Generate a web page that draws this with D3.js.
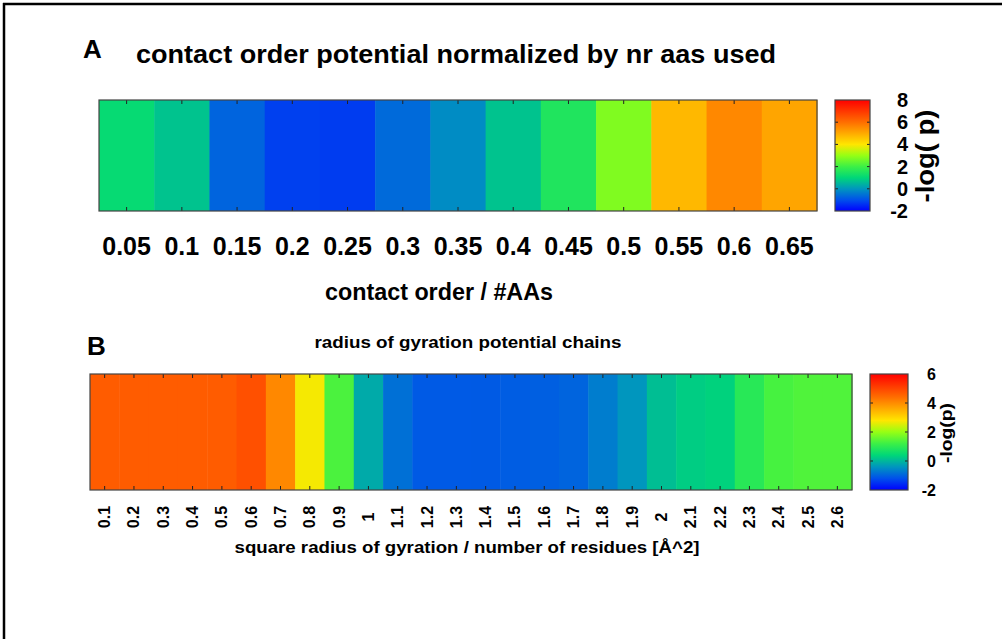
<!DOCTYPE html>
<html>
<head>
<meta charset="utf-8">
<script src="https://cdn.jsdelivr.net/npm/d3@7"></script>
<style>
  html, body { margin: 0; padding: 0; background: #fff; }
  svg { display: block; }
  text { font-family: "Liberation Sans", Arial, Helvetica, sans-serif; font-weight: bold; fill: #000; }
</style>
</head>
<body>
<svg id="chart" width="1002" height="639"></svg>
<script>
// Panel A: contact order potential
const contactOrder = ["0.05", "0.1", "0.15", "0.2", "0.25", "0.3", "0.35", "0.4", "0.45", "0.5", "0.55", "0.6", "0.65"];
const contactLogP = [1.1, 0.69, -0.71, -1.2, -1.25, -0.63, -0.14, 0.69, 1.53, 2.76, 4.77, 5.57, 5.08];
const contactTicks = [-2, 0, 2, 4, 6, 8];

// Panel B: radius of gyration potential
const gyration = ["0.1", "0.2", "0.3", "0.4", "0.5", "0.6", "0.7", "0.8", "0.9", "1", "1.1", "1.2", "1.3",
                  "1.4", "1.5", "1.6", "1.7", "1.8", "1.9", "2", "2.1", "2.2", "2.3", "2.4", "2.5", "2.6"];
const gyrationLogP = [4.66, 4.66, 4.66, 4.66, 4.66, 4.84, 4.05, 2.72, 1.33, -0.16, -0.83, -1.09, -1.09,
                      -1.08, -1.05, -1.03, -0.97, -0.69, -0.40, 0.09, 0.28, 0.34, 0.93, 1.29, 1.38, 1.38];
const gyrationTicks = [-2, 0, 2, 4, 6];

// rainbow palette, blue -> green -> yellow -> red
const paletteStops = [
  [0.0, "rgb(0,0,255)"], [0.1, "rgb(0,80,235)"], [0.2, "rgb(0,150,190)"], [0.3, "rgb(0,215,120)"],
  [0.4, "rgb(60,240,70)"], [0.5, "rgb(150,255,20)"], [0.6, "rgb(255,230,0)"], [0.7, "rgb(255,170,0)"],
  [0.8, "rgb(255,110,0)"], [0.9, "rgb(255,55,0)"], [1.0, "rgb(255,0,0)"]
];

const svg = d3.select("#chart");
const defs = svg.append("defs");

// page frame (top and left rules)
svg.append("line").attr("x1", 3).attr("x2", 1002).attr("y1", 4).attr("y2", 4)
  .attr("stroke", "#000").attr("stroke-width", 2.5);
svg.append("line").attr("x1", 4).attr("x2", 4).attr("y1", 3).attr("y2", 639)
  .attr("stroke", "#000").attr("stroke-width", 2.5);

function paletteScale(lo, hi) {
  return d3.scaleLinear()
    .domain(paletteStops.map(s => lo + s[0] * (hi - lo)))
    .range(paletteStops.map(s => s[1]))
    .interpolate(d3.interpolateRgb)
    .clamp(true);
}

function heatStrip(cfg) {
  const g = svg.append("g");
  const x = d3.scaleBand().domain(cfg.cats).range([cfg.x0, cfg.x1]).padding(0);
  const color = paletteScale(cfg.lo, cfg.hi);
  const rows = cfg.cats.map((c, i) => ({ c, v: cfg.vals[i] }));

  g.selectAll("rect.cell").data(rows).join("rect")
    .attr("class", "cell")
    .attr("x", d => x(d.c))
    .attr("y", cfg.y0)
    .attr("width", x.bandwidth() + 0.5)
    .attr("height", cfg.y1 - cfg.y0)
    .attr("fill", d => color(d.v));

  // inward ticks at cell centres, top and bottom
  const cx = d => x(d) + x.bandwidth() / 2;
  g.selectAll("line.tt").data(cfg.cats).join("line")
    .attr("x1", cx).attr("x2", cx).attr("y1", cfg.y0).attr("y2", cfg.y0 + cfg.tick)
    .attr("stroke", "#222").attr("stroke-width", 1);
  g.selectAll("line.tb").data(cfg.cats).join("line")
    .attr("x1", cx).attr("x2", cx).attr("y1", cfg.y1).attr("y2", cfg.y1 - cfg.tick)
    .attr("stroke", "#222").attr("stroke-width", 1);

  g.append("rect").attr("x", cfg.x0).attr("y", cfg.y0)
    .attr("width", cfg.x1 - cfg.x0).attr("height", cfg.y1 - cfg.y0)
    .attr("fill", "none").attr("stroke", "#444").attr("stroke-width", 1.2);

  // category labels
  if (cfg.rotate) {
    g.selectAll("text.lab").data(cfg.cats).join("text")
      .attr("transform", d => `translate(${cx(d)},${cfg.labelY}) rotate(-90)`)
      .attr("text-anchor", "middle")
      .attr("dominant-baseline", "central")
      .style("font-size", cfg.labelSize + "px")
      .text(d => d);
  } else {
    g.selectAll("text.lab").data(cfg.cats).join("text")
      .attr("x", cx).attr("y", cfg.labelY)
      .attr("text-anchor", "middle")
      .style("font-size", cfg.labelSize + "px")
      .text(d => d);
  }

  // colour bar
  const gid = cfg.id + "-grad";
  const grad = defs.append("linearGradient").attr("id", gid)
    .attr("x1", 0).attr("x2", 0).attr("y1", 1).attr("y2", 0);
  grad.selectAll("stop").data(paletteStops).join("stop")
    .attr("offset", d => d[0]).attr("stop-color", d => d[1]);

  const cb = cfg.cbar;
  const y = d3.scaleLinear().domain([cfg.lo, cfg.hi]).range([cfg.y1, cfg.y0]);
  g.append("rect").attr("x", cb.x0).attr("y", cfg.y0)
    .attr("width", cb.x1 - cb.x0).attr("height", cfg.y1 - cfg.y0)
    .attr("fill", `url(#${gid})`);
  const inner = cfg.ticks.filter(t => t > cfg.lo && t < cfg.hi);
  g.selectAll("line.cl").data(inner).join("line")
    .attr("x1", cb.x0).attr("x2", cb.x0 + 3).attr("y1", d => y(d)).attr("y2", d => y(d))
    .attr("stroke", "#222");
  g.selectAll("line.cr").data(inner).join("line")
    .attr("x1", cb.x1).attr("x2", cb.x1 - 3).attr("y1", d => y(d)).attr("y2", d => y(d))
    .attr("stroke", "#222");
  g.append("rect").attr("x", cb.x0).attr("y", cfg.y0)
    .attr("width", cb.x1 - cb.x0).attr("height", cfg.y1 - cfg.y0)
    .attr("fill", "none").attr("stroke", "#444").attr("stroke-width", 1.2);

  g.selectAll("text.cbl").data(cfg.ticks).join("text")
    .attr("x", cb.labelX).attr("y", d => y(d))
    .attr("text-anchor", "end")
    .attr("dominant-baseline", "central")
    .style("font-size", cb.labelSize + "px")
    .text(d => d);

  g.append("text")
    .attr("transform", `translate(${cb.titleX},${cb.titleY}) rotate(-90)`)
    .attr("text-anchor", "middle")
    .attr("dominant-baseline", "central")
    .style("font-size", cb.titleSize + "px")
    .attr("textLength", cb.titleLen)
    .attr("lengthAdjust", "spacingAndGlyphs")
    .text(cb.title);
}

// ---- Panel A ----
svg.append("text").attr("x", 83).attr("y", 58).style("font-size", "26px").text("A");
svg.append("text").attr("x", 136).attr("y", 63).style("font-size", "26px")
  .attr("textLength", 640).attr("lengthAdjust", "spacingAndGlyphs")
  .text("contact order potential normalized by nr aas used");

heatStrip({
  id: "a", cats: contactOrder, vals: contactLogP, lo: -2, hi: 8, ticks: contactTicks,
  x0: 99, x1: 817, y0: 100, y1: 211, tick: 4,
  rotate: false, labelY: 255, labelSize: 25,
  cbar: { x0: 835, x1: 870, labelX: 908, labelSize: 20,
          title: "-log( p)", titleX: 925, titleY: 156, titleSize: 25, titleLen: 93 }
});

svg.append("text").attr("x", 439).attr("y", 300).attr("text-anchor", "middle")
  .style("font-size", "24px").attr("textLength", 228).attr("lengthAdjust", "spacingAndGlyphs")
  .text("contact order / #AAs");

// ---- Panel B ----
svg.append("text").attr("x", 87).attr("y", 355).style("font-size", "26px").text("B");
svg.append("text").attr("x", 468).attr("y", 348).attr("text-anchor", "middle").style("font-size", "16px")
  .attr("textLength", 307).attr("lengthAdjust", "spacingAndGlyphs")
  .text("radius of gyration potential chains");

heatStrip({
  id: "b", cats: gyration, vals: gyrationLogP, lo: -2, hi: 6, ticks: gyrationTicks,
  x0: 90, x1: 852, y0: 374, y1: 490, tick: 4,
  rotate: true, labelY: 517, labelSize: 16,
  cbar: { x0: 870, x1: 908, labelX: 936, labelSize: 16,
          title: "-log(p)", titleX: 946, titleY: 433, titleSize: 16, titleLen: 60 }
});

svg.append("text").attr("x", 467).attr("y", 553).attr("text-anchor", "middle")
  .style("font-size", "17px").attr("textLength", 465).attr("lengthAdjust", "spacingAndGlyphs")
  .text("square radius of gyration / number of residues [Å^2]");
</script>
</body>
</html>
